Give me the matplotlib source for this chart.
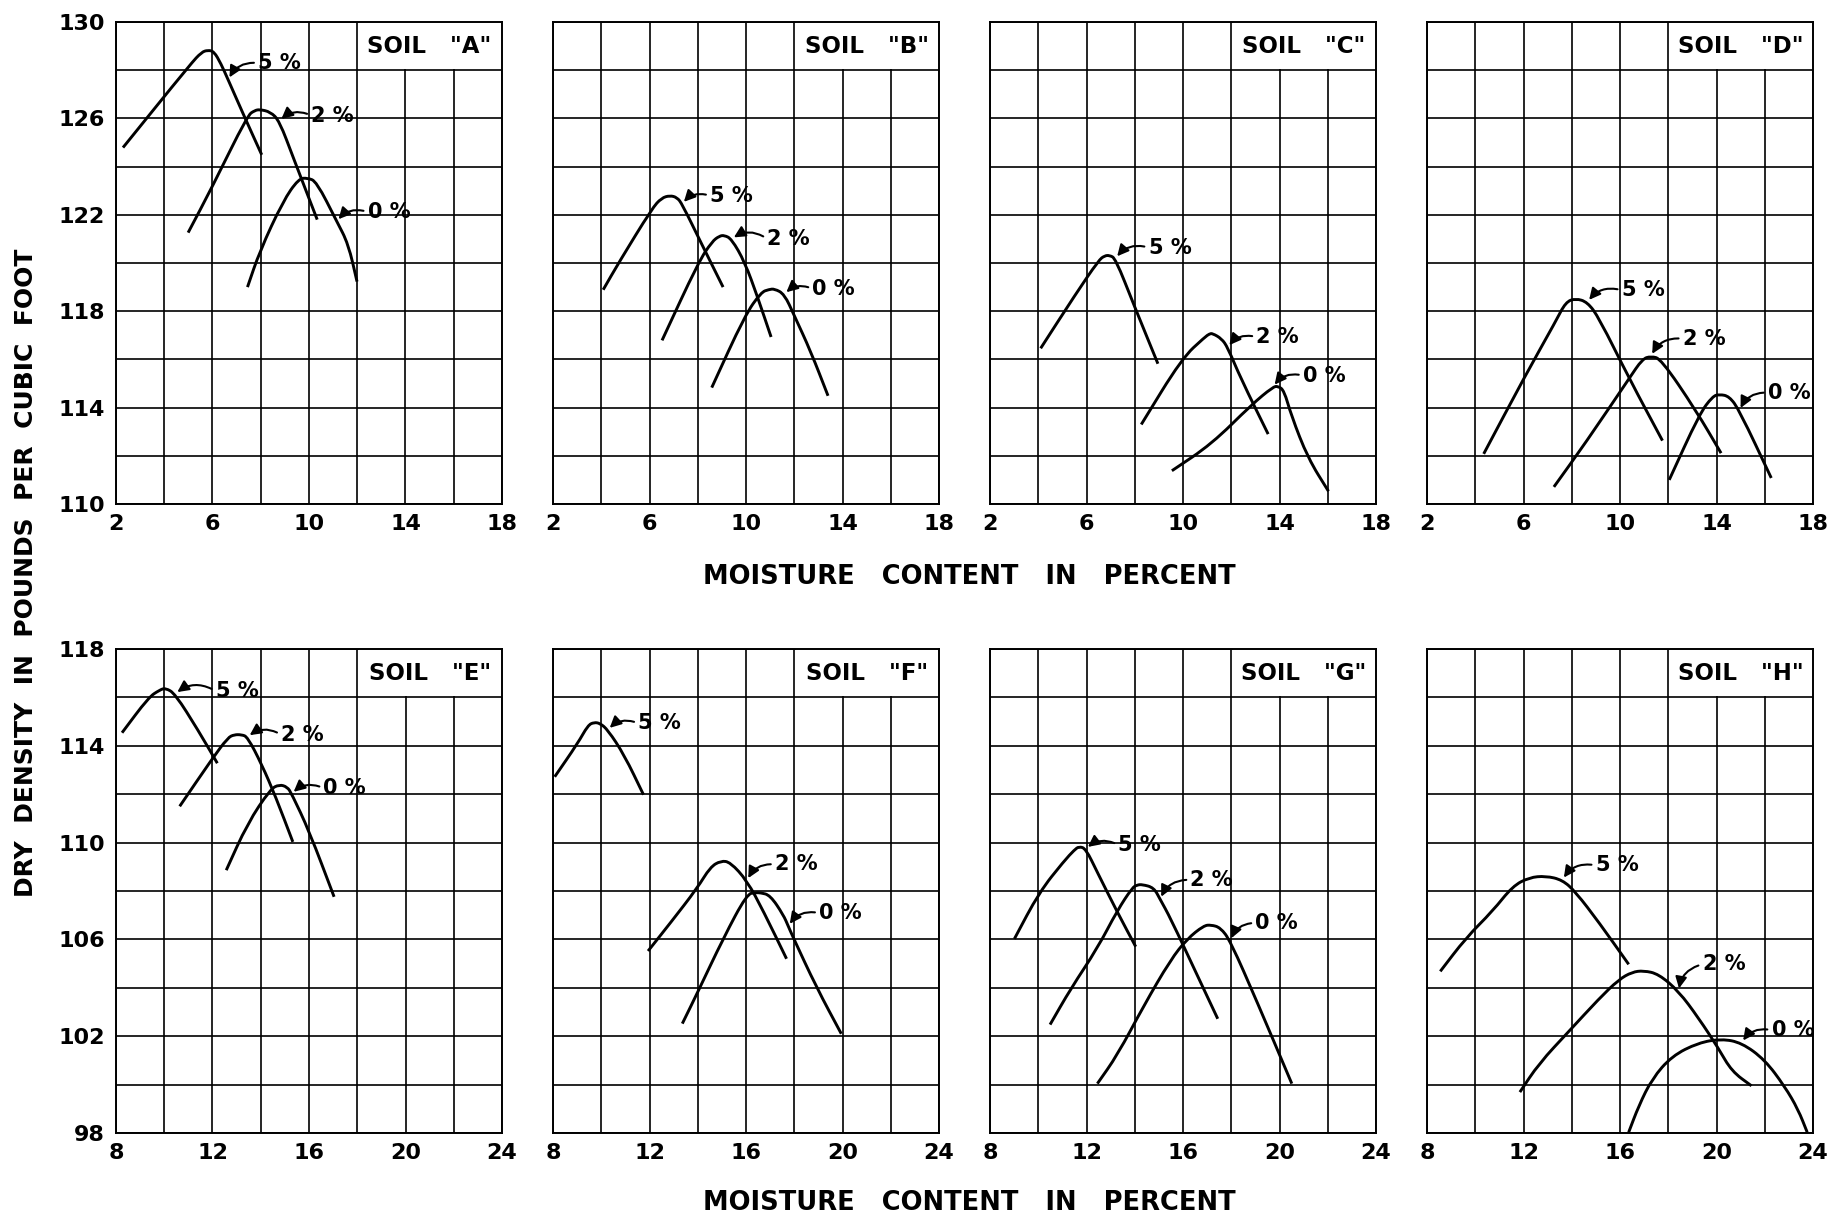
import numpy as np
import matplotlib
matplotlib.use("Agg")
import matplotlib.pyplot as plt
from matplotlib.patches import Rectangle, PathPatch
from matplotlib.path import Path

# Compaction curves: moisture content (%) vs dry density (lb/ft3)
# for 5 %, 2 % and 0 % additive, eight soils.
a5_moist = [2.29, 5.1, 5.55, 5.8, 6.06, 6.35, 6.65, 7.3, 8.04]
a5_dens = [124.79, 128.27, 128.75, 128.83, 128.78, 128.27, 127.6, 126.12, 124.49]
a2_moist = [4.99, 5.99, 7.45, 7.75, 7.96, 8.4, 8.77, 9.36, 10.34]
a2_dens = [121.26, 123.16, 126.12, 126.33, 126.37, 126.27, 125.9, 124.34, 121.8]
a0_moist = [7.45, 7.96, 8.92, 9.57, 9.94, 10.31, 11.15, 11.63, 11.99]
a0_dens = [119.0, 120.49, 122.56, 123.5, 123.53, 123.38, 121.73, 120.79, 119.23]

b5_moist = [4.08, 4.74, 6.11, 6.5, 6.85, 7.14, 7.35, 8.16, 9.05]
b5_dens = [118.89, 120.04, 122.27, 122.7, 122.8, 122.72, 122.45, 120.79, 119.0]
b2_moist = [6.52, 8.03, 8.6, 8.9, 9.1, 9.4, 9.95, 10.49, 11.04]
b2_dens = [116.79, 120.04, 120.9, 121.12, 121.15, 121.0, 120.04, 118.56, 116.93]
b0_moist = [8.58, 9.95, 10.63, 10.95, 11.18, 11.59, 12.0, 12.68, 13.4]
b0_dens = [114.83, 117.82, 118.79, 118.9, 118.93, 118.71, 117.82, 116.34, 114.49]

c5_moist = [4.1, 5.55, 6.51, 6.75, 6.95, 7.2, 7.96, 8.96]
c5_dens = [116.46, 118.71, 120.12, 120.3, 120.32, 120.19, 118.27, 115.82]
c2_moist = [8.27, 9.95, 10.91, 11.1, 11.22, 11.6, 11.85, 12.4, 13.53]
c2_dens = [113.3, 116.04, 116.93, 117.06, 117.08, 116.86, 116.5, 115.2, 112.9]
c0_moist = [9.54, 11.19, 12.84, 13.73, 13.94, 14.19, 14.49, 15.18, 16.03]
c0_dens = [111.38, 112.49, 114.12, 114.86, 114.89, 114.71, 113.67, 111.9, 110.53]

d5_moist = [4.35, 6.09, 7.33, 7.75, 8.16, 8.65, 9.13, 10.38, 11.76]
d5_dens = [112.08, 115.36, 117.57, 118.38, 118.53, 118.38, 117.72, 115.21, 112.63]
d2_moist = [7.26, 8.58, 10.38, 10.93, 11.28, 11.7, 13.15, 14.19]
d2_dens = [110.71, 112.55, 115.21, 116.02, 116.13, 116.02, 113.88, 112.11]
d0_moist = [12.04, 13.29, 13.84, 14.12, 14.53, 14.95, 16.27]
d0_dens = [111.0, 113.73, 114.47, 114.55, 114.47, 113.88, 111.08]

e5_moist = [8.25, 9.35, 9.8, 10.05, 10.45, 11.4, 12.2]
e5_dens = [114.54, 116.0, 116.3, 116.39, 116.15, 114.65, 113.28]
e2_moist = [10.64, 11.99, 12.64, 12.9, 13.2, 13.45, 14.04, 14.62, 15.33]
e2_dens = [111.5, 113.47, 114.34, 114.46, 114.46, 114.37, 113.23, 111.89, 110.03]
e0_moist = [12.57, 13.45, 14.4, 14.77, 15.1, 15.28, 16.01, 17.04]
e0_dens = [108.86, 110.79, 112.21, 112.4, 112.3, 112.02, 110.47, 107.76]

f5_moist = [8.07, 9.03, 9.45, 9.7, 9.95, 10.27, 10.95, 11.75]
f5_dens = [112.72, 114.11, 114.85, 114.97, 114.93, 114.66, 113.63, 111.98]
f2_moist = [11.94, 12.88, 13.98, 14.52, 14.96, 15.35, 16.04, 16.72, 17.68]
f2_dens = [105.52, 106.7, 108.12, 108.99, 109.25, 109.19, 108.43, 107.17, 105.2]
f0_moist = [13.36, 13.98, 15.07, 16.04, 16.4, 16.59, 17.0, 17.55, 17.75, 17.96, 18.92, 19.95]
f0_dens = [102.52, 103.78, 106.07, 107.88, 107.93, 107.93, 107.83, 107.01, 106.55, 106.07, 104.02, 102.1]

g5_moist = [9.01, 10.04, 11.07, 11.5, 11.69, 11.97, 12.45, 13.28, 14.04]
g5_dens = [106.02, 107.95, 109.24, 109.7, 109.84, 109.75, 108.77, 107.12, 105.7]
g2_moist = [10.49, 11.35, 12.45, 13.28, 13.9, 14.1, 14.31, 14.79, 15.05, 15.48, 16.59, 17.44]
g2_dens = [102.48, 103.97, 105.63, 107.2, 108.14, 108.25, 108.27, 108.14, 107.66, 106.88, 104.52, 102.72]
g0_moist = [12.45, 13.28, 14.38, 15.48, 16.17, 16.86, 17.16, 17.55, 17.96, 19.07, 20.51]
g0_dens = [100.04, 101.22, 103.27, 105.15, 106.02, 106.57, 106.6, 106.49, 105.94, 103.42, 100.04]

h5_moist = [8.55, 9.62, 10.72, 11.55, 12.24, 12.92, 13.61, 14.16, 15.13, 16.36]
h5_dens = [104.68, 106.07, 107.17, 108.2, 108.56, 108.62, 108.46, 107.96, 106.7, 104.97]
h2_moist = [11.85, 12.64, 13.89, 15.13, 15.95, 16.5, 16.98, 17.6, 18.43, 19.25, 20.08, 20.63, 21.45]
h2_dens = [99.69, 100.87, 102.21, 103.55, 104.34, 104.65, 104.71, 104.57, 103.86, 102.76, 101.5, 100.55, 99.95]
h0_moist = [16.36, 16.78, 17.33, 18.15, 19.25, 20.21, 21.04, 22.0, 22.83, 23.38, 23.76]
h0_dens = [98.03, 99.13, 100.24, 101.18, 101.73, 101.89, 101.73, 101.03, 99.92, 98.98, 98.03]

soils = ["A", "B", "C", "D", "E", "F", "G", "H"]
additive_labels = ["5 %", "2 %", "0 %"]

curves = {
    "A": [(a5_moist, a5_dens), (a2_moist, a2_dens), (a0_moist, a0_dens)],
    "B": [(b5_moist, b5_dens), (b2_moist, b2_dens), (b0_moist, b0_dens)],
    "C": [(c5_moist, c5_dens), (c2_moist, c2_dens), (c0_moist, c0_dens)],
    "D": [(d5_moist, d5_dens), (d2_moist, d2_dens), (d0_moist, d0_dens)],
    "E": [(e5_moist, e5_dens), (e2_moist, e2_dens), (e0_moist, e0_dens)],
    "F": [(f5_moist, f5_dens), (f2_moist, f2_dens), (f0_moist, f0_dens)],
    "G": [(g5_moist, g5_dens), (g2_moist, g2_dens), (g0_moist, g0_dens)],
    "H": [(h5_moist, h5_dens), (h2_moist, h2_dens), (h0_moist, h0_dens)],
}

# index of the curve point each label arrow points at
arrow_point = {
    "A": [6, 6, 6], "B": [6, 5, 5], "C": [5, 6, 3], "D": [5, 4, 5],
    "E": [4, 5, 5], "F": [5, 6, 8], "G": [5, 8, 8], "H": [6, 8, 6],
}
# label anchor (left edge, vertical centre) in data units
label_pos = {
    "A": [(7.89, 128.3), (10.09, 126.12), (12.43, 122.12)],
    "B": [(8.51, 122.79), (10.88, 121.0), (12.75, 118.93)],
    "C": [(8.57, 120.64), (13.04, 116.93), (14.97, 115.33)],
    "D": [(10.07, 118.87), (12.6, 116.86), (16.13, 114.62)],
    "E": [(12.13, 116.26), (14.84, 114.46), (16.6, 112.25)],
    "F": [(11.53, 114.93), (17.2, 109.1), (19.03, 107.09)],
    "G": [(13.32, 109.9), (16.31, 108.46), (19.0, 106.68)],
    "H": [(14.99, 109.06), (19.42, 104.97), (22.28, 102.25)],
}

top_xlim, top_ylim = (2, 18), (110, 130)
bot_xlim, bot_ylim = (8, 24), (98, 118)

FW, FH = 1845, 1218
fig = plt.figure(figsize=(FW / 100, FH / 100), dpi=100)
fig.patch.set_facecolor("white")

col_left = [116, 553, 990, 1427]
col_width = 386
row_span = [(22, 504), (649, 1133)]

FONT = "DejaVu Sans"
tick_fs = 16
ink = "black"


def smooth_path(xs, ys):
    """Straight limbs with quadratic Bezier rounding at each bend."""
    p = np.column_stack([xs, ys]).astype(float)
    verts = [p[0], (p[0] + p[1]) / 2]
    codes = [Path.MOVETO, Path.LINETO]
    for i in range(1, len(p) - 1):
        verts += [p[i], (p[i] + p[i + 1]) / 2]
        codes += [Path.CURVE3, Path.CURVE3]
    verts.append(p[-1])
    codes.append(Path.LINETO)
    return Path(verts, codes)


for i, soil in enumerate(soils):
    r, c = divmod(i, 4)
    top, bot = row_span[r]
    ax = fig.add_axes([col_left[c] / FW, 1 - bot / FH,
                       col_width / FW, (bot - top) / FH])
    xlim, ylim = (top_xlim, top_ylim) if r == 0 else (bot_xlim, bot_ylim)
    ax.set_xlim(*xlim)
    ax.set_ylim(*ylim)

    xt = np.arange(xlim[0], xlim[1] + 1, 2)
    yt = np.arange(ylim[0], ylim[1] + 1, 2)
    ax.set_xticks(xt)
    ax.set_yticks(yt)
    ax.set_xticklabels([str(v) if (v - xlim[0]) % 4 == 0 else "" for v in xt],
                       fontsize=tick_fs, fontfamily=FONT, fontweight="bold")
    if c == 0:
        ax.set_yticklabels([str(v) if (v - ylim[0]) % 4 == 0 else "" for v in yt],
                           fontsize=tick_fs, fontfamily=FONT, fontweight="bold")
    else:
        ax.set_yticklabels([])
    ax.tick_params(axis="both", length=0)
    ax.tick_params(axis="x", pad=7)
    ax.tick_params(axis="y", pad=8)

    ax.set_axisbelow(True)
    ax.grid(True, color=ink, lw=1.2)
    for s in ax.spines.values():
        s.set_linewidth(1.4)
        s.set_color(ink)

    # title box in the top-right cells, hiding the grid behind it
    bx0, by0 = xlim[1] - 6, ylim[1] - 2
    ax.add_patch(Rectangle((bx0 + 0.06, by0 + 0.06), 6, 2, facecolor="white",
                           edgecolor="none", zorder=1))
    ax.text(bx0 + 3, by0 + 1, f'SOIL   "{soil}"', ha="center", va="center",
            fontsize=16.5, fontfamily=FONT, fontweight="bold", zorder=4)

    for k, (mx, dy) in enumerate(curves[soil]):
        ax.add_patch(PathPatch(smooth_path(mx, dy), fill=False, edgecolor=ink,
                               lw=2.1, joinstyle="round", capstyle="butt",
                               zorder=3))
        j = arrow_point[soil][k]
        ax.annotate(additive_labels[k], xy=(mx[j], dy[j]),
                    xytext=label_pos[soil][k], textcoords="data",
                    ha="left", va="center", fontsize=15, fontfamily=FONT,
                    fontweight="bold", zorder=4,
                    arrowprops=dict(arrowstyle="-|>", color=ink, lw=1.5,
                                    mutation_scale=17, shrinkA=1, shrinkB=2,
                                    relpos=(0.0, 0.5),
                                    connectionstyle="arc3,rad=0.35"))

xlabel = "MOISTURE   CONTENT   IN   PERCENT"
fig.text(969 / FW, 1 - 577 / FH, xlabel, ha="center", va="center",
         fontsize=18.5, fontfamily=FONT, fontweight="bold")
fig.text(969 / FW, 1 - 1203 / FH, xlabel, ha="center", va="center",
         fontsize=18.5, fontfamily=FONT, fontweight="bold")
fig.text(26 / FW, 1 - 573 / FH, "DRY  DENSITY  IN  POUNDS  PER  CUBIC  FOOT",
         rotation=90, ha="center", va="center",
         fontsize=18, fontfamily=FONT, fontweight="bold")

fig.savefig("out.png", dpi=100, facecolor="white")
